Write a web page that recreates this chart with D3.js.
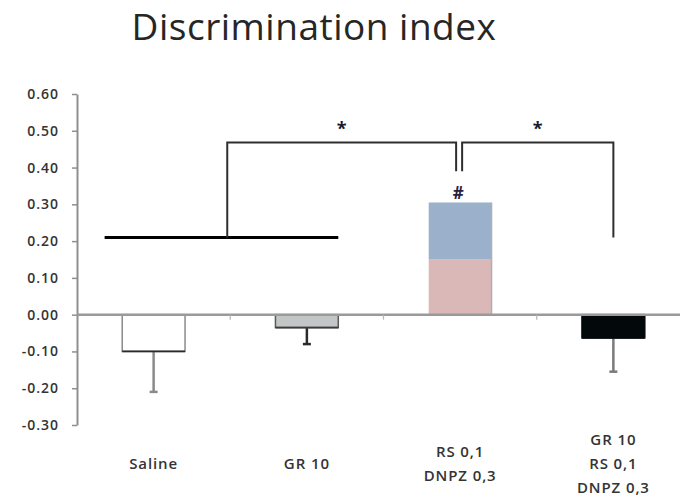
<!DOCTYPE html>
<html>
<head>
<meta charset="utf-8">
<script src="https://cdn.jsdelivr.net/npm/d3@7"></script>
<style>
  html, body { margin: 0; padding: 0; background: #fff; }
  svg { display: block; }
  text { font-family: "Open Sans", "DejaVu Sans", sans-serif; }
</style>
</head>
<body>
<svg id="chart" width="680" height="497"></svg>
<script>
// Group labels (one entry per line) and group means
const categories = ["Saline", "GR 10", "RS 0,1 DNPZ 0,3", "GR 10 RS 0,1 DNPZ 0,3"];
const labelLines = [["Saline"], ["GR 10"], ["RS 0,1", "DNPZ 0,3"], ["GR 10", "RS 0,1", "DNPZ 0,3"]];
const means = [-0.10, -0.035, 0.305, -0.063];
const errorEnds = [-0.21, -0.08, null, -0.155];
// Two-tone fill of the combination bar: lower segment top, full height
const splitTops = [0.15, 0.305];
const splitColors = ["#dbb8b8", "#9bb0ca"];
// Y axis ticks
const yTicks = [-0.30, -0.20, -0.10, 0.00, 0.10, 0.20, 0.30, 0.40, 0.50, 0.60];
const yTickLabels = ["-0.30", "-0.20", "-0.10", "0.00", "0.10", "0.20", "0.30", "0.40", "0.50", "0.60"];
// Significance markers: baseline line under the control groups, brackets and stars
const baseLine = { from: 0, to: 1, value: 0.21 };
const brackets = [
  { from: 0.5, to: 2, lowLeft: 0.21, lowRight: 0.39, top: 0.468, label: "*" },
  { from: 2, to: 3, lowLeft: 0.39, lowRight: 0.21, top: 0.468, label: "*" }
];
const hashMark = { group: 2, value: 0.33, label: "#" };

const svg = d3.select("#chart");

const x = d3.scaleBand()
  .domain(categories)
  .range([77, 690])
  .paddingInner(0.59)
  .paddingOuter(0.295);

const y = d3.scaleLinear().domain([-0.30, 0.60]).range([425, 94]);

const cx = i => x(categories[i]) + x.bandwidth() / 2;
// position between group centres (fractional index)
const gx = f => {
  const i = Math.floor(f), t = f - i;
  if (t === 0) return cx(i);
  return cx(i) + (cx(i + 1) - cx(i)) * t;
};

// Title
svg.append("text")
  .attr("x", 314).attr("y", 40)
  .attr("text-anchor", "middle")
  .attr("font-size", 37)
  .attr("letter-spacing", 0.5)
  .attr("fill", "#262626")
  .text("Discrimination index");

// Y axis
const yAxis = d3.axisLeft(y)
  .tickValues(yTicks)
  .tickFormat((d, i) => yTickLabels[i])
  .tickSize(5)
  .tickSizeOuter(0)
  .tickPadding(13);

const gy = svg.append("g").attr("transform", "translate(77,0)").call(yAxis);
gy.select(".domain").attr("stroke", "#8f8f8f").attr("stroke-width", 2);
gy.selectAll(".tick line").attr("stroke", "#8f8f8f").attr("stroke-width", 1.5);
gy.selectAll(".tick text")
  .attr("font-size", 14)
  .attr("font-weight", 600)
  .attr("letter-spacing", 1)
  .attr("fill", "#333")
  .attr("font-family", "'Open Sans', sans-serif");

// Bars
const bars = svg.append("g");
means.forEach((m, i) => {
  const x0 = x(categories[i]), w = x.bandwidth();
  if (i === 2) {
    let prev = 0;
    splitTops.forEach((top, k) => {
      bars.append("rect")
        .attr("x", x0).attr("width", w)
        .attr("y", y(top)).attr("height", y(prev) - y(top))
        .attr("fill", splitColors[k]);
      prev = top;
    });
    bars.append("line")
      .attr("x1", x0 + w).attr("x2", x0 + w)
      .attr("y1", y(m)).attr("y2", y(0))
      .attr("stroke", "#b0b0b0").attr("stroke-width", 1.5);
    return;
  }
  const styles = [
    { fill: "#ffffff", stroke: "#8a8a8a", bottom: "#2a2a2a", err: "#8a8a8a" },
    { fill: "#c2c6c6", stroke: "#5a5a5a", bottom: "#3a3a3a", err: "#2a2a2a" },
    null,
    { fill: "#03080b", stroke: "#03080b", bottom: "#03080b", err: "#7a7a7a" }
  ][i];
  // error bar first so the bar edge sits on top
  if (errorEnds[i] !== null) {
    bars.append("line")
      .attr("x1", cx(i)).attr("x2", cx(i))
      .attr("y1", y(m)).attr("y2", y(errorEnds[i]))
      .attr("stroke", styles.err).attr("stroke-width", 2.5);
    bars.append("line")
      .attr("x1", cx(i) - 4).attr("x2", cx(i) + 4)
      .attr("y1", y(errorEnds[i])).attr("y2", y(errorEnds[i]))
      .attr("stroke", styles.err).attr("stroke-width", 2.5);
  }
  bars.append("rect")
    .attr("x", x0).attr("width", w)
    .attr("y", y(0)).attr("height", y(m) - y(0))
    .attr("fill", styles.fill)
    .attr("stroke", styles.stroke).attr("stroke-width", 1.5);
  bars.append("line")
    .attr("x1", x0).attr("x2", x0 + w)
    .attr("y1", y(m)).attr("y2", y(m))
    .attr("stroke", styles.bottom).attr("stroke-width", 1.8);
});

// X axis line with group separators
svg.append("line")
  .attr("x1", 77).attr("x2", 680)
  .attr("y1", y(0)).attr("y2", y(0))
  .attr("stroke", "#9a9a9a").attr("stroke-width", 2.5);
for (let i = 1; i < categories.length; i++) {
  const bx = x(categories[i]) - x.step() * x.paddingInner() / 2;
  svg.append("line")
    .attr("x1", bx).attr("x2", bx)
    .attr("y1", y(0)).attr("y2", y(0) + 5)
    .attr("stroke", "#b5b5b5").attr("stroke-width", 1.2);
}

// Category labels
const labels = svg.append("g");
labelLines.forEach((lines, i) => {
  const lineH = 24;
  const first = 469 - (lines.length - 1) * lineH / 2;
  const t = labels.append("text")
    .attr("text-anchor", "middle")
    .attr("font-size", 15)
    .attr("font-weight", 600)
    .attr("letter-spacing", 0.9)
    .attr("fill", "#333");
  lines.forEach((s, k) => {
    t.append("tspan").attr("x", cx(i)).attr("y", first + k * lineH).text(s);
  });
});

// Significance annotations
const ann = svg.append("g");
ann.append("line")
  .attr("x1", x(categories[baseLine.from]) - x.bandwidth() * 0.28)
  .attr("x2", x(categories[baseLine.to]) + x.bandwidth())
  .attr("y1", y(baseLine.value)).attr("y2", y(baseLine.value))
  .attr("stroke", "#000").attr("stroke-width", 3);

brackets.forEach((b, k) => {
  const xl = gx(b.from) + (k === 0 ? -3 : 2);
  const xr = gx(b.to) + (k === 0 ? -4 : 0);
  ann.append("path")
    .attr("d", `M${xl},${y(b.lowLeft)}V${y(b.top)}H${xr}V${y(b.lowRight)}`)
    .attr("fill", "none")
    .attr("stroke", "#2e2e2e").attr("stroke-width", 2);
  ann.append("text")
    .attr("x", (xl + xr) / 2).attr("y", y(b.top) - 8)
    .attr("text-anchor", "middle")
    .attr("font-size", 18).attr("font-weight", 700)
    .attr("fill", "#1a1a2a")
    .text(b.label);
});

ann.append("text")
  .attr("x", cx(hashMark.group) - 2).attr("y", y(hashMark.value) + 6)
  .attr("text-anchor", "middle")
  .attr("font-size", 17).attr("font-weight", 700)
  .attr("fill", "#2a2040")
  .text(hashMark.label);
</script>
</body>
</html>
